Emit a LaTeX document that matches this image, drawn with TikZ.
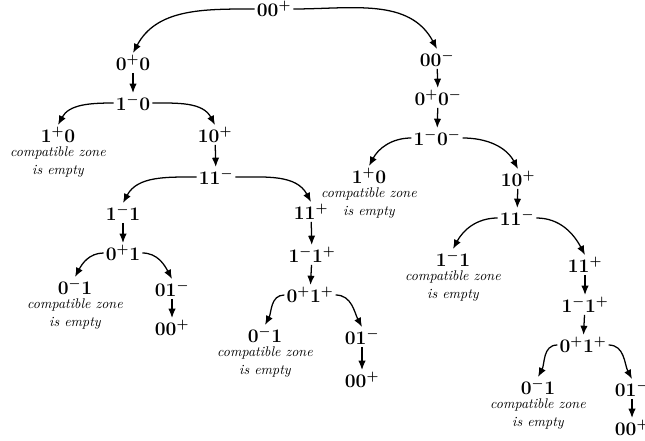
\documentclass[tikz,border=0pt]{standalone}
\usepackage{tikz}
\usetikzlibrary{arrows.meta,positioning}

\begin{document}
\begin{tikzpicture}[>={Latex[length=7pt,width=5.5pt]}, x=0.75pt, y=-0.75pt,
    % styles for clarity
    state/.style  ={inner sep=1.5pt, font=\fontsize{14.5}{16}\selectfont\boldmath},
    zone/.style   ={inner sep=0pt, align=center, font=\fontsize{10.5}{13}\selectfont\itshape},
    link/.style   ={->, line width=0.95pt},
    goleft/.style ={link, out=180, in=62},
    goright/.style={link, out=0, in=118}
  ]
    \useasboundingbox (0,0) rectangle (645,441);

    % root
    \node[state](root) at (274, 9) {$00^{+}$};

    % left branch
    \node[state](lA) at (133, 63)  {$0^{+}0$};
    \node[state](lB) at (133, 103) {$1^{-}0$};
    \node[state](lC) at (58, 135)  {$1^{+}0$};
    \node[state](lD) at (215, 135) {$10^{+}$};
    \node[state](lE) at (216, 177) {$11^{-}$};
    \node[state](lF) at (123, 213) {$1^{-}1$};
    \node[state](lG) at (123, 253) {$0^{+}1$};
    \node[state](lH) at (75, 287)  {$0^{-}1$};
    \node[state](lI) at (172, 289) {$01^{-}$};
    \node[state](lJ) at (172, 328) {$00^{+}$};
    \node[state](lK) at (311, 212) {$11^{+}$};
    \node[state](lL) at (312, 255) {$1^{-}1^{+}$};
    \node[state](lM) at (310, 295) {$0^{+}1^{+}$};
    \node[state](lN) at (265, 335) {$0^{-}1$};
    \node[state](lO) at (362, 337) {$01^{-}$};
    \node[state](lP) at (362, 380) {$00^{+}$};

    % right branch
    \node[state](rA) at (437, 59)  {$00^{-}$};
    \node[state](rB) at (438, 98)  {$0^{+}0^{-}$};
    \node[state](rC) at (437, 138) {$1^{-}0^{-}$};
    \node[state](rD) at (369, 176) {$1^{+}0$};
    \node[state](rE) at (518, 179) {$10^{+}$};
    \node[state](rF) at (517, 218) {$11^{-}$};
    \node[state](rG) at (453, 259) {$1^{-}1$};
    \node[state](rH) at (585, 265) {$11^{+}$};
    \node[state](rI) at (585, 305) {$1^{-}1^{+}$};
    \node[state](rJ) at (583, 345) {$0^{+}1^{+}$};
    \node[state](rK) at (538, 387) {$0^{-}1$};
    \node[state](rL) at (632, 389) {$01^{-}$};
    \node[state](rM) at (632, 428) {$00^{+}$};

    % empty zones
    \node[zone, below=1.5pt of lC](lCz) {compatible zone\\is empty};
    \node[zone, below=1.5pt of lH](lHz) {compatible zone\\is empty};
    \node[zone, below=1.5pt of lN](lNz) {compatible zone\\is empty};
    \node[zone, below=1.5pt of rD](rDz) {compatible zone\\is empty};
    \node[zone, below=1.5pt of rG](rGz) {compatible zone\\is empty};
    \node[zone, below=1.5pt of rK](rKz) {compatible zone\\is empty};

    % splits
    \draw[goleft]  (root.west) to (lA.north);
    \draw[goright] (root.east) to (rA.north);
    \draw[goleft]  (lB.west) to (lC.north);
    \draw[goright] (lB.east) to (lD.north);
    \draw[goleft]  (lE.west) to (lF.north);
    \draw[goright] (lE.east) to (lK.north);
    \draw[goleft]  (lG.west) to (lH.north);
    \draw[goright] (lG.east) to (lI.north);
    \draw[goleft]  (lM.west) to (lN.north);
    \draw[goright] (lM.east) to (lO.north);
    \draw[goleft]  (rC.west) to (rD.north);
    \draw[goright] (rC.east) to (rE.north);
    \draw[goleft]  (rF.west) to (rG.north);
    \draw[goright] (rF.east) to (rH.north);
    \draw[goleft]  (rJ.west) to (rK.north);
    \draw[goright] (rJ.east) to (rL.north);

    % steps
    \draw[link] (lA) -- (lB);
    \draw[link] (lD) -- (lE);
    \draw[link] (lF) -- (lG);
    \draw[link] (lI) -- (lJ);
    \draw[link] (lK) -- (lL);
    \draw[link] (lL) -- (lM);
    \draw[link] (lO) -- (lP);
    \draw[link] (rA) -- (rB);
    \draw[link] (rB) -- (rC);
    \draw[link] (rE) -- (rF);
    \draw[link] (rH) -- (rI);
    \draw[link] (rI) -- (rJ);
    \draw[link] (rL) -- (rM);
  \end{tikzpicture}
\end{document}
